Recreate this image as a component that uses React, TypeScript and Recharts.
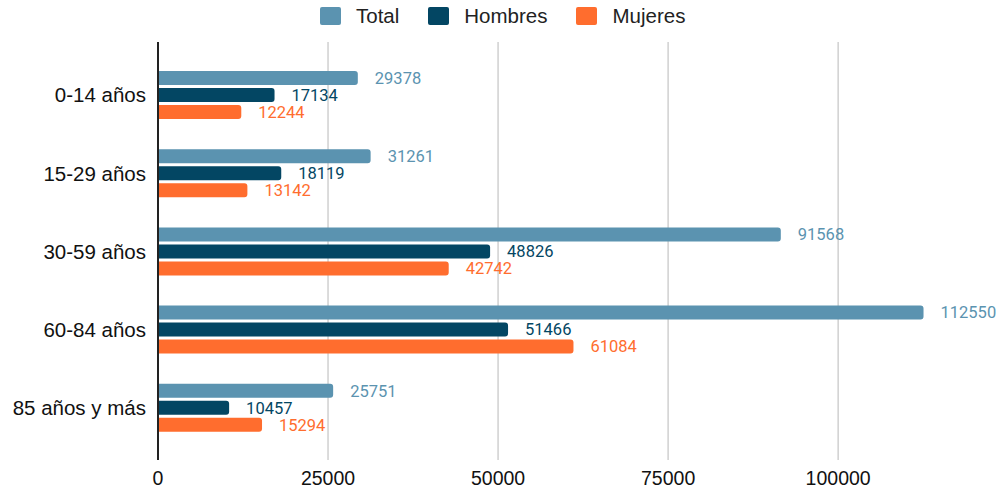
import { BarChart, Bar, XAxis, YAxis, CartesianGrid, LabelList } from "recharts"

const categories = ["0-14 años", "15-29 años", "30-59 años", "60-84 años", "85 años y más"]
const totalValues = [29378, 31261, 91568, 112550, 25751]
const hombresValues = [17134, 18119, 48826, 51466, 10457]
const mujeresValues = [12244, 13142, 42742, 61084, 15294]
const xTicks = [0, 25000, 50000, 75000, 100000]

const series = [
  { key: "total", name: "Total", color: "#5b93b0" },
  { key: "hombres", name: "Hombres", color: "#034663" },
  { key: "mujeres", name: "Mujeres", color: "#ff6d2e" }
]

const data = categories.map((name, i) => ({
  name,
  total: totalValues[i],
  hombres: hombresValues[i],
  mujeres: mujeresValues[i]
}))

const axisFont = "'Liberation Sans', Arial, sans-serif"

// legend drawn above the plot, centered like the original
const TopLegend = () => (
  <div
    style={{
      position: "absolute",
      top: 4,
      left: 320,
      display: "flex",
      alignItems: "center",
      fontFamily: axisFont,
      fontSize: 20.5,
      color: "#222"
    }}
  >
    {series.map((s) => (
      <div key={s.key} style={{ display: "flex", alignItems: "center", marginRight: 29 }}>
        <span
          style={{
            width: 21,
            height: 18,
            borderRadius: 2,
            background: s.color,
            display: "inline-block",
            marginRight: 15
          }}
        />
        <span>{s.name}</span>
      </div>
    ))}
  </div>
)

export default function App() {
  return (
    <div style={{ position: "absolute", left: 0, top: 0, width: 998, height: 490, background: "#fff" }}>
      <TopLegend />
      <BarChart
        width={998}
        height={490}
        data={data}
        layout="vertical"
        margin={{ top: 42, right: 0, bottom: 0, left: 0 }}
        barSize={14}
        barGap={3}
      >
        <CartesianGrid
          horizontal={false}
          stroke="#d0d0d0"
          strokeWidth={1.5}
          syncWithTicks
        />
        <XAxis
          type="number"
          domain={[0, 123500]}
          ticks={xTicks}
          axisLine={false}
          tickLine={false}
          tickMargin={5}
          height={30}
          tick={{ fill: "#111", fontSize: 19.5, fontFamily: axisFont }}
        />
        <YAxis
          type="category"
          dataKey="name"
          width={158}
          padding={{ top: 14, bottom: 13 }}
          axisLine={{ stroke: "#222", strokeWidth: 2 }}
          tickLine={false}
          tickMargin={6}
          tick={{ fill: "#111", fontSize: 20.5, fontFamily: axisFont }}
        />
        {series.map((s) => (
          <Bar
            key={s.key}
            dataKey={s.key}
            name={s.name}
            fill={s.color}
            radius={[0, 3, 3, 0]}
            isAnimationActive={false}
          >
            <LabelList
              dataKey={s.key}
              position="right"
              offset={17}
              fill={s.color}
              style={{ fontSize: 16.5, fontFamily: "Roboto, sans-serif" }}
            />
          </Bar>
        ))}
      </BarChart>
    </div>
  )
}
